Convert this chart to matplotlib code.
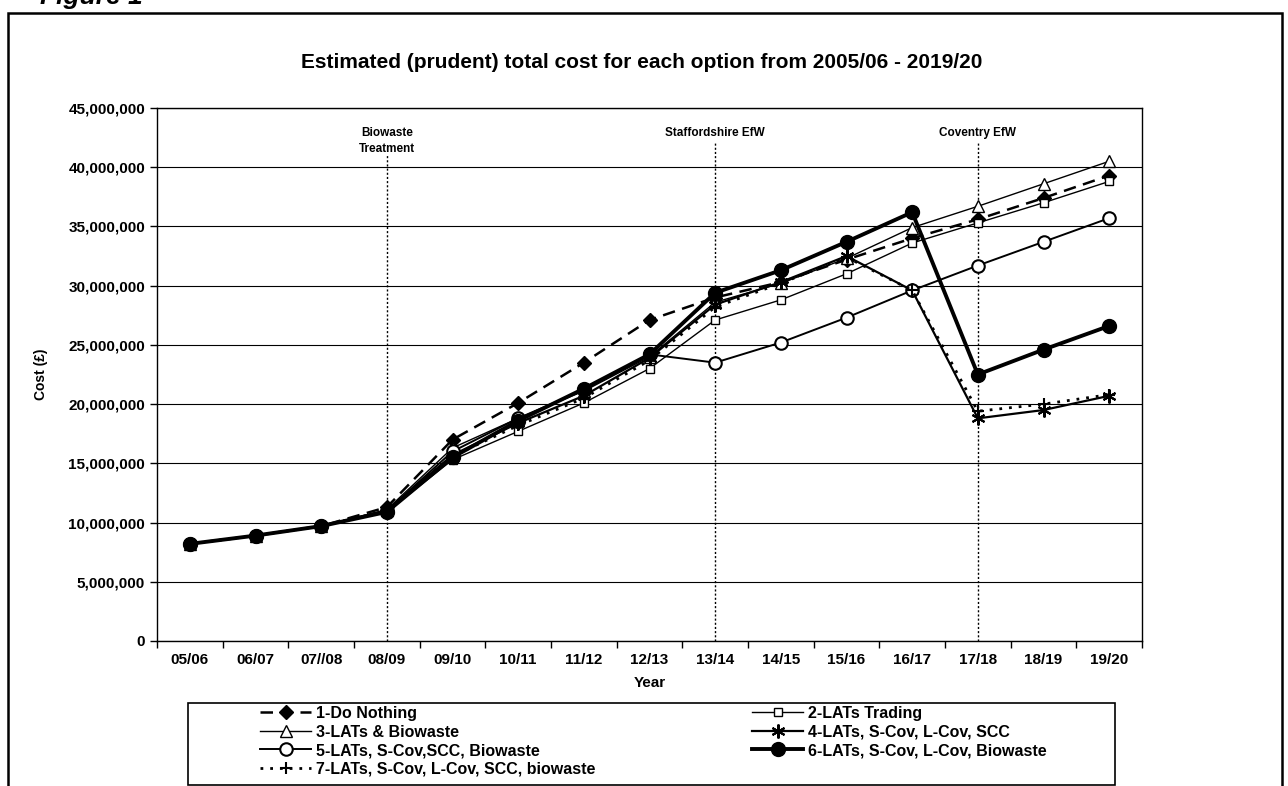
import matplotlib
matplotlib.use('Agg')
import matplotlib.pyplot as plt
from matplotlib.patches import Rectangle
from matplotlib.ticker import FuncFormatter, FixedLocator

years = ['05/06', '06/07', '07//08', '08/09', '09/10', '10/11', '11/12', '12/13',
         '13/14', '14/15', '15/16', '16/17', '17/18', '18/19', '19/20']

# costs in £ million
do_nothing = [8.2, 8.9, 9.7, 11.3, 17.0, 20.1, 23.5, 27.1, 29.0, 30.3, 32.2, 34.0, 35.6, 37.4, 39.3]
lats_trading = [8.2, 8.9, 9.7, 10.9, 15.3, 17.7, 20.1, 23.0, 27.1, 28.8, 31.0, 33.6, 35.3, 37.0, 38.8]
lats_biowaste = [8.2, 8.9, 9.7, 11.1, 16.3, 18.8, 21.1, 24.0, 28.6, 30.2, 32.3, 34.9, 36.7, 38.6, 40.5]
lats_scov_lcov_scc = [8.2, 8.9, 9.7, 11.0, 15.7, 18.4, 20.7, 23.9, 28.4, 30.3, 32.5, 29.6, 18.8, 19.5, 20.7]
lats_scov_scc_bio = [8.2, 8.9, 9.7, 11.0, 16.0, 18.8, 21.2, 24.2, 23.5, 25.2, 27.3, 29.6, 31.7, 33.7, 35.7]
lats_scov_lcov_bio = [8.2, 8.9, 9.7, 10.9, 15.5, 18.6, 21.3, 24.2, 29.4, 31.3, 33.7, 36.2, 22.5, 24.6, 26.6]
lats_all = [8.2, 8.9, 9.7, 11.0, 15.6, 18.2, 20.5, 23.7, 28.2, 30.2, 32.4, 29.6, 19.4, 20.0, 20.8]

labels = ['1-Do Nothing', '2-LATs Trading', '3-LATs & Biowaste', '4-LATs, S-Cov, L-Cov, SCC',
          '5-LATs, S-Cov,SCC, Biowaste', '6-LATs, S-Cov, L-Cov, Biowaste',
          '7-LATs, S-Cov, L-Cov, SCC, biowaste']

events = ['Biowaste\nTreatment', 'Staffordshire EfW', 'Coventry EfW']
event_years = ['08/09', '13/14', '17/18']

plt.rcParams['font.family'] = ['Liberation Sans', 'DejaVu Sans']

W, H = 1288, 786
fig = plt.figure(figsize=(W / 100, H / 100), dpi=100)
ax = fig.add_axes([157 / W, 1 - 641 / H, (1142 - 157) / W, (641 - 108) / H])

x = list(range(len(years)))
m = 1e6
styles = [
    dict(ls=(0, (5, 3)), lw=1.8, marker='D', ms=7, mfc='black', mec='black'),
    dict(ls='-', lw=1.0, marker='s', ms=6, mfc='white', mec='black', mew=1.0),
    dict(ls='-', lw=1.0, marker='^', ms=8, mfc='white', mec='black', mew=1.0),
    dict(ls='-', lw=1.6, marker=(6, 2, 0), ms=10, mfc='black', mec='black', mew=1.5),
    dict(ls='-', lw=1.4, marker='o', ms=9, mfc='white', mec='black', mew=1.5),
    dict(ls='-', lw=2.8, marker='o', ms=10, mfc='black', mec='black'),
    dict(ls=(0, (1, 2.5)), lw=2.0, marker='+', ms=9, mfc='black', mec='black', mew=1.5),
]
series = [do_nothing, lats_trading, lats_biowaste, lats_scov_lcov_scc,
          lats_scov_scc_bio, lats_scov_lcov_bio, lats_all]
handles = []
for vals, lab, st in zip(series, labels, styles):
    h, = ax.plot(x, [v * m for v in vals], color='black', label=lab, zorder=3, **st)
    handles.append(h)

ax.set_xlim(-0.5, len(years) - 0.5)
ax.set_ylim(0, 45e6)
ax.set_yticks([i * 5e6 for i in range(10)])
ax.yaxis.set_major_formatter(FuncFormatter(lambda v, p: f'{int(v):,}'))
ax.grid(axis='y', color='black', lw=0.8)
ax.set_axisbelow(True)

# ticks between categories, labels at the centres
ax.xaxis.set_major_locator(FixedLocator([i - 0.5 for i in range(len(years) + 1)]))
ax.xaxis.set_minor_locator(FixedLocator(x))
ax.set_xticklabels([])
ax.set_xticklabels(years, minor=True)
ax.tick_params(axis='x', which='minor', length=0, pad=9)
ax.tick_params(axis='both', which='major', direction='out', length=5, width=1)
for t in ax.get_xticklabels(minor=True) + ax.get_yticklabels():
    t.set_fontsize(11)
    t.set_fontweight('bold')

for sp in ax.spines.values():
    sp.set_linewidth(1.0)

for ev, yr in zip(events, event_years):
    xi = years.index(yr)
    top = 41.0e6 if '\n' in ev else 42.2e6
    ax.vlines(xi, 0, top, colors='black', linestyles=(0, (1.5, 1.5)), lw=1.0, zorder=2)
    ax.text(xi, 43.4e6, ev, ha='center', va='top', fontsize=8.5, fontweight='bold',
            linespacing=1.5)

ax.set_xlabel('Year', fontsize=11, fontweight='bold', labelpad=6)
ax.set_ylabel('Cost (£)', fontsize=10, fontweight='bold', labelpad=12)
ax.yaxis.set_label_coords((48 - 157) / (1142 - 157), 0.5)

fig.text(642 / W, 1 - 62 / H, 'Estimated (prudent) total cost for each option from 2005/06 - 2019/20',
         ha='center', va='center', fontsize=15, fontweight='bold')

# outer frame and cut-off caption
fig.add_artist(Rectangle((8 / W, -0.1), (1282 - 8) / W, 1.1 - 13 / H,
                         transform=fig.transFigure, fill=False, lw=1.8, color='black'))
fig.text(40 / W, 1 - 4 / H, 'Figure 1', fontsize=19, fontweight='bold', style='italic',
         ha='left', va='baseline')

# legend box with two columns
fig.add_artist(Rectangle((188 / W, 1 - 785 / H), (1115 - 188) / W, (785 - 703) / H,
                         transform=fig.transFigure, fill=False, lw=1.2, color='black'))
leg_kw = dict(frameon=False, prop={'weight': 'bold', 'size': 11.5},
              handlelength=3.2, handletextpad=0.3, labelspacing=0.22,
              borderpad=0, borderaxespad=0, loc='upper left')
left = [handles[i] for i in (0, 2, 4, 6)]
right = [handles[i] for i in (1, 3, 5)]
fig.legend(left, [h.get_label() for h in left],
           bbox_to_anchor=(260 / W, 1 - 706 / H), **leg_kw)
fig.legend(right, [h.get_label() for h in right],
           bbox_to_anchor=(752 / W, 1 - 706 / H), **leg_kw)

fig.savefig('out.png', dpi=100)
